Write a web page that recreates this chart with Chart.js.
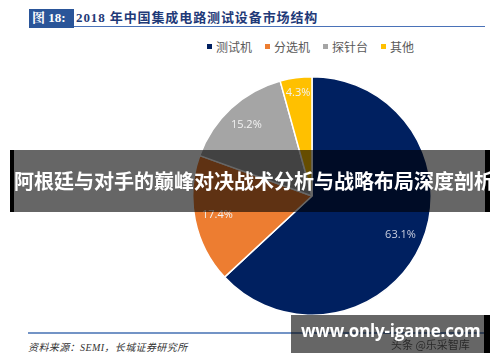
<!DOCTYPE html>
<html lang="zh">
<head>
    <meta charset="UTF-8">
    <title>2018 年中国集成电路测试设备市场结构</title>
    <script src="https://cdn.jsdelivr.net/npm/chart.js"></script>
    <style>
        body { margin: 0; width: 500px; height: 362px; background: #fff; position: relative; overflow: hidden; font-family: "Noto Sans CJK SC", sans-serif; }
        .title { position: absolute; left: 29px; top: 9px; width: 456px; height: 17px; border-bottom: 1.5px solid #4a72b8; }
        .title .tag { position: absolute; left: 0; top: 0; width: 45px; height: 19px; background: #2a5599; color: #fff; font: bold 13px "Liberation Serif", "Noto Serif CJK SC", serif; line-height: 18px; padding-left: 3px; box-sizing: border-box; }
        .title .txt { position: absolute; left: 47px; top: 0; color: #1f3a78; font: bold 13px "Liberation Serif", "Noto Sans CJK SC", serif; line-height: 18px; letter-spacing: 0.9px; }
        .legend { position: absolute; top: 38px; left: 207px; font-size: 12px; color: #595959; white-space: nowrap; }
        .legend span { display: inline-block; margin-right: 13px; }
        .legend i { display: inline-block; width: 5px; height: 5px; margin-right: 4px; vertical-align: 3px; }
        #pieWrap { position: absolute; left: 192px; top: 76px; width: 240px; height: 240px; }
        .banner { position: absolute; left: 10px; top: 150px; width: 480px; height: 62px; background: rgba(0,0,0,0.6); border-left: 4px solid #000; border-right: 5px solid #000; box-sizing: border-box; color: #fff; font: bold 20px "Noto Sans CJK SC", sans-serif; line-height: 62px; text-align: center; white-space: nowrap; }
        .foot { position: absolute; left: 28px; top: 332px; width: 457px; border-top: 2px solid #7394c6; }
        .source { position: absolute; left: 28px; top: 339px; font: italic 10px "Liberation Serif", "Noto Sans CJK SC", serif; color: #333; letter-spacing: 0.4px; }
        .mark { position: absolute; left: 291px; top: 315px; width: 199px; height: 38px; background: rgba(0,0,0,0.6); border-right: 6px solid #000; box-sizing: border-box; }
        .mark .faint { position: absolute; left: 100px; top: 21px; font-size: 11px; color: #2a2a2a; white-space: nowrap; }
        .mark .url { position: absolute; left: 10px; top: 4px; font: bold 17px "Open Sans", "DejaVu Sans", sans-serif; color: #fff; white-space: nowrap; letter-spacing: -0.2px; }
    </style>
</head>
<body>
    <div class="title"><div class="tag">图 18:</div><div class="txt">2018 年中国集成电路测试设备市场结构</div></div>
    <div class="legend" id="legend"></div>
    <div id="pieWrap"><canvas id="pieChart" width="240" height="240"></canvas></div>
    <div class="foot"></div>
    <div class="source">资料来源：SEMI，长城证券研究所</div>
    <div class="banner">阿根廷与对手的巅峰对决战术分析与战略布局深度剖析</div>
    <div class="mark"><div class="faint">头条 @乐采智库</div><div class="url">www.only-igame.com</div></div>
    <script>
        const categories = ['测试机', '分选机', '探针台', '其他'];
        const shares = [63.1, 17.4, 15.2, 4.3];
        const colors = ['#002060', '#ed7d31', '#a5a5a5', '#ffc000'];

        // legend in html
        document.getElementById('legend').innerHTML = categories.map(function(c, i) {
            return '<span><i style="background:' + colors[i] + '"></i>' + c + '</span>';
        }).join('');

        const pctLabels = {
            id: 'pctLabels',
            afterDatasetsDraw(chart) {
                const ctx = chart.ctx;
                const meta = chart.getDatasetMeta(0);
                ctx.save();
                ctx.font = '11px "Open Sans", "DejaVu Sans", sans-serif';
                ctx.textAlign = 'center';
                ctx.textBaseline = 'middle';
                meta.data.forEach(function(arc, i) {
                    const mid = (arc.startAngle + arc.endAngle) / 2;
                    const r = arc.outerRadius * (shares[i] < 10 ? 0.87 : 0.81);
                    ctx.fillStyle = i === 0 ? '#c9cfdf' : '#f2f2f2';
                    ctx.fillText(shares[i].toFixed(1) + '%', arc.x + Math.cos(mid) * r, arc.y + Math.sin(mid) * r);
                });
                ctx.restore();
            }
        };

        new Chart(document.getElementById('pieChart'), {
            type: 'pie',
            data: {
                labels: categories,
                datasets: [{
                    data: shares,
                    backgroundColor: colors,
                    borderColor: '#ffffff',
                    borderWidth: 1.5,
                    hoverOffset: 0
                }]
            },
            options: {
                responsive: false,
                animation: false,
                events: [],
                layout: { padding: 0 },
                plugins: {
                    legend: { display: false },
                    tooltip: { enabled: false }
                }
            },
            plugins: [pctLabels]
        });
    </script>
</body>
</html>
